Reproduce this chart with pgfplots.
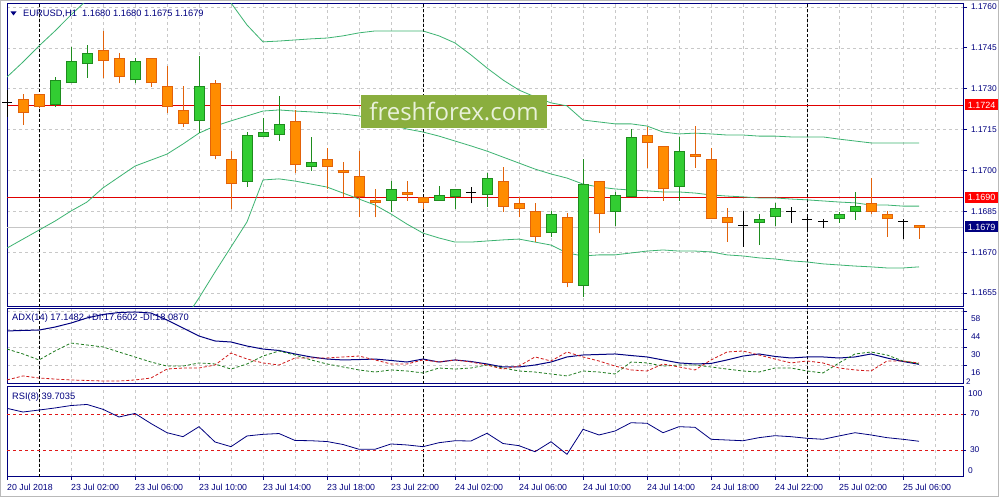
\documentclass[border=0pt]{standalone}
\usepackage{fontspec}
\setmainfont{Liberation Sans}
\newfontfamily\wmfont{Open Sans}
\usepackage{pgfplots}
\usepackage{pgfplotstable}
\pgfplotsset{compat=1.18}
\definecolor{mtnavy}{HTML}{000080}
\definecolor{gridgray}{HTML}{C8C8C8}
\definecolor{bullfill}{HTML}{32CD32}
\definecolor{bulledge}{HTML}{1E8C1E}
\definecolor{bearfill}{HTML}{FF8C00}
\definecolor{bearedge}{HTML}{E2620A}
\definecolor{bandgreen}{HTML}{3CB371}
\definecolor{levelred}{HTML}{E00000}
\definecolor{rsired}{HTML}{E01818}
\definecolor{wmbox}{HTML}{8AAE3E}
\definecolor{wmtext}{HTML}{E9F1DA}
\definecolor{pdigreen}{HTML}{1E7B1E}
\definecolor{mdired}{HTML}{D01818}

\pgfplotstableread{
i O H L C
3 1.17239 1.17342 1.17232 1.17332
4 1.17320 1.17453 1.17320 1.17402
5 1.17390 1.17461 1.17340 1.17430
8 1.17331 1.17412 1.17320 1.17402
12 1.17180 1.17420 1.17139 1.17309
15 1.16959 1.17140 1.16940 1.17130
16 1.17122 1.17194 1.17122 1.17140
17 1.17129 1.17273 1.17109 1.17169
19 1.17012 1.17124 1.16999 1.17030
24 1.16889 1.16961 1.16849 1.16931
27 1.16889 1.16943 1.16889 1.16909
28 1.16901 1.16931 1.16858 1.16931
30 1.16909 1.16990 1.16867 1.16971
34 1.16769 1.16852 1.16757 1.16840
36 1.16577 1.17041 1.16537 1.16949
38 1.16849 1.16921 1.16796 1.16909
39 1.16901 1.17152 1.16901 1.17122
42 1.16940 1.17124 1.16889 1.17071
47 1.16808 1.16839 1.16726 1.16821
48 1.16828 1.16879 1.16796 1.16861
52 1.16821 1.16849 1.16808 1.16839
53 1.16849 1.16921 1.16818 1.16868
}\bull

\pgfplotstableread{
i O H L C
1 1.17261 1.17280 1.17167 1.17210
2 1.17280 1.17282 1.17230 1.17232
6 1.17441 1.17512 1.17340 1.17401
7 1.17412 1.17430 1.17320 1.17342
9 1.17412 1.17412 1.17307 1.17320
10 1.17309 1.17383 1.17210 1.17232
11 1.17222 1.17310 1.17161 1.17169
13 1.17321 1.17332 1.17041 1.17052
14 1.17041 1.17071 1.16860 1.16949
18 1.17180 1.17222 1.16990 1.17019
20 1.17041 1.17082 1.16931 1.17012
21 1.17002 1.17030 1.16904 1.16990
22 1.16980 1.17071 1.16828 1.16901
23 1.16892 1.16931 1.16828 1.16879
25 1.16920 1.16961 1.16889 1.16909
26 1.16901 1.16901 1.16858 1.16879
31 1.16961 1.17014 1.16849 1.16867
32 1.16879 1.16901 1.16828 1.16860
33 1.16851 1.16882 1.16737 1.16757
35 1.16828 1.16843 1.16571 1.16588
37 1.16961 1.16961 1.16769 1.16839
40 1.17130 1.17161 1.17010 1.17100
41 1.17090 1.17090 1.16889 1.16931
43 1.17060 1.17163 1.17010 1.17050
44 1.17041 1.17082 1.16821 1.16821
45 1.16829 1.16861 1.16738 1.16808
54 1.16879 1.16971 1.16839 1.16849
55 1.16839 1.16851 1.16757 1.16821
57 1.16800 1.16800 1.16750 1.16790
}\bear

\pgfplotstableread{
i O H L C
0 1.17251 1.17295 1.17196 1.17251
29 1.16918 1.16940 1.16879 1.16918
46 1.16799 1.16851 1.16720 1.16799
49 1.16851 1.16867 1.16808 1.16851
50 1.16821 1.16836 1.16779 1.16821
51 1.16811 1.16821 1.16789 1.16811
56 1.16812 1.16821 1.16747 1.16812
}\doji

\pgfplotstableread{
i up mid lo
0 1.17343 1.16715 1.16088
1 1.17398 1.16748 1.16099
2 1.17457 1.16781 1.16106
3 1.17512 1.16814 1.16117
4 1.17571 1.16851 1.16132
5 1.17626 1.16884 1.16143
6 1.17670 1.16936 1.16172
7 1.17706 1.16976 1.16209
8 1.17736 1.17016 1.16260
9 1.17754 1.17038 1.16315
10 1.17762 1.17060 1.16370
11 1.17758 1.17097 1.16444
12 1.17736 1.17137 1.16532
13 1.17692 1.17163 1.16627
14 1.17615 1.17182 1.16719
15 1.17534 1.17200 1.16811
16 1.17472 1.17218 1.16965
17 1.17475 1.17222 1.16969
18 1.17479 1.17218 1.16961
19 1.17483 1.17215 1.16950
20 1.17486 1.17211 1.16939
21 1.17494 1.17207 1.16917
22 1.17505 1.17200 1.16895
23 1.17512 1.17185 1.16873
24 1.17512 1.17167 1.16840
25 1.17512 1.17152 1.16803
26 1.17512 1.17141 1.16770
27 1.17494 1.17126 1.16752
28 1.17468 1.17108 1.16737
29 1.17424 1.17090 1.16737
30 1.17376 1.17071 1.16741
31 1.17332 1.17049 1.16745
32 1.17295 1.17027 1.16748
33 1.17270 1.17005 1.16737
34 1.17248 1.16987 1.16726
35 1.17237 1.16972 1.16697
36 1.17185 1.16950 1.16686
37 1.17178 1.16939 1.16690
38 1.17171 1.16932 1.16690
39 1.17171 1.16928 1.16697
40 1.17163 1.16925 1.16704
41 1.17141 1.16921 1.16708
42 1.17134 1.16921 1.16704
43 1.17137 1.16917 1.16704
44 1.17134 1.16910 1.16701
45 1.17130 1.16906 1.16690
46 1.17130 1.16903 1.16686
47 1.17126 1.16899 1.16679
48 1.17126 1.16899 1.16675
49 1.17123 1.16895 1.16668
50 1.17123 1.16892 1.16664
51 1.17123 1.16888 1.16657
52 1.17115 1.16884 1.16653
53 1.17108 1.16881 1.16649
54 1.17101 1.16873 1.16646
55 1.17101 1.16873 1.16642
56 1.17101 1.16869 1.16642
57 1.17101 1.16869 1.16646
}\bands

\pgfplotstableread{
i adx pdi mdi rsi
0 42.8 28.9 5.1 76.3
1 43.2 25.1 8.2 72.2
2 43.5 20.5 6.6 74.4
3 45.8 27.4 5.8 76.7
4 48.9 33.5 5.1 79.4
5 52.8 32.0 4.7 80.6
6 55.5 30.5 4.3 75.2
7 57.0 26.6 4.3 66.7
8 57.4 22.8 5.1 70.6
9 56.6 18.9 6.6 59.4
10 51.2 15.8 13.5 49.2
11 45.1 15.8 14.3 44.8
12 38.9 18.2 14.3 55.9
13 35.1 17.4 16.6 38.9
14 34.3 13.5 25.8 33.7
15 31.2 17.4 21.2 45.6
16 28.9 23.5 18.2 47.4
17 27.8 27.4 16.6 48.3
18 25.1 24.3 22.0 40.6
19 22.8 20.5 22.0 40.3
20 21.2 17.4 22.0 39.4
21 20.5 15.1 22.8 36.1
22 20.8 12.8 23.5 30.8
23 21.2 11.2 20.5 30.8
24 20.1 12.8 17.4 36.7
25 18.9 12.0 17.4 35.6
26 21.2 10.5 20.5 33.7
27 18.9 14.3 18.9 38.1
28 20.5 13.5 20.5 40.3
29 19.3 14.3 18.9 40.0
30 17.4 16.6 16.6 48.6
31 15.1 14.3 13.5 37.2
32 15.1 12.0 15.8 34.8
33 16.6 11.2 22.8 28.1
34 18.9 9.7 19.7 39.2
35 22.8 8.2 26.6 25.2
36 24.3 12.0 22.8 53.0
37 24.7 11.2 19.7 46.7
38 25.1 9.7 15.8 51.1
39 23.9 18.9 12.8 60.3
40 22.8 18.2 12.0 59.7
41 20.5 15.8 17.4 49.2
42 18.2 16.6 15.1 55.9
43 17.4 16.6 12.8 55.2
44 17.8 15.1 20.5 41.9
45 20.5 13.5 26.6 41.1
46 23.5 12.0 27.4 40.3
47 25.1 11.2 24.3 43.7
48 23.2 14.3 21.2 45.9
49 22.0 14.3 18.2 44.8
50 22.8 12.0 19.7 43.0
51 22.8 10.5 18.2 41.9
52 22.0 18.2 14.3 45.6
53 22.8 25.1 12.8 49.2
54 25.1 26.6 12.0 46.7
55 22.0 24.3 19.7 43.7
56 19.3 19.7 19.7 41.9
57 17.1482 17.6602 18.0870 39.7035
}\ind

\pgfplotsset{
  mtbase/.style={
    scale only axis, width=956pt, xmin=0, xmax=59.75,
    axis line style={draw=mtnavy, line width=1pt},
    tick align=outside, major tick length=4pt,
    tick style={draw=mtnavy, line width=0.8pt},
    grid style={draw=gridgray, dash pattern=on 3pt off 3pt, line width=0.6pt},
    ytick pos=right, yticklabel pos=right,
    yticklabel style={font=\fontsize{8.4}{9}\selectfont, text=mtnavy, xshift=0.5pt},
    xticklabel style={font=\fontsize{8.8}{10}\selectfont, text=mtnavy},
    /pgf/number format/assume math mode=true,
    scaled y ticks=false,
    extra x ticks={2,26,50}, extra x tick labels={},
    extra x tick style={grid=major, major grid style={draw=black, dash pattern=on 3pt off 2pt, line width=0.8pt}, major tick length=0pt},
  },
  upper/.style={mtbase, xtick={0,2,...,58}, xticklabels={}, xmajorgrids, every x tick/.style={draw=none}},
  wick/.style={draw=none, mark=none, forget plot, error bars/.cd, y dir=plus, y explicit, error mark=none, error bar style={draw=#1, line width=1pt, solid}},
  body/.style 2 args={draw=none, mark=none, forget plot, error bars/.cd, y dir=plus, y explicit, error mark=none, error bar style={draw=#1, line width=#2, solid}},
}

\begin{document}
\begin{tikzpicture}
\fill[white] (0pt,0pt) rectangle (999pt,497pt);
\draw[gray!55, line width=1pt] (0.5pt,0.5pt) rectangle (998.5pt,496.5pt);

% ---------------- main price panel
\begin{axis}[upper, at={(7pt,190pt)}, anchor=south west, height=303pt,
  ymin=1.164987, ymax=1.17611,
  ytick={1.1655,1.1670,1.1685,1.1700,1.1715,1.1730,1.1745,1.1760}, ymajorgrids,
  yticklabel style={/pgf/number format/fixed, /pgf/number format/fixed zerofill, /pgf/number format/precision=4}]
\draw[levelred, line width=1.1pt] (axis cs:0,1.1724) -- (axis cs:59.75,1.1724);
\draw[levelred, line width=1.1pt] (axis cs:0,1.1690) -- (axis cs:59.75,1.1690);
\draw[gray!45, line width=0.9pt] (axis cs:0,1.1679) -- (axis cs:59.75,1.1679);
\addplot[bandgreen, line width=0.8pt, mark=none] table[x=i, y=up] {\bands};
\addplot[bandgreen, line width=0.8pt, mark=none] table[x=i, y=mid] {\bands};
\addplot[bandgreen, line width=0.8pt, mark=none] table[x=i, y=lo] {\bands};
% wicks
\addplot[wick=bulledge] table[x=i, y=L, y error plus expr={\thisrow{H}-\thisrow{L}}] {\bull};
\addplot[wick=bearedge] table[x=i, y=L, y error plus expr={\thisrow{H}-\thisrow{L}}] {\bear};
\addplot[wick=black] table[x=i, y=L, y error plus expr={\thisrow{H}-\thisrow{L}}] {\doji};
% bodies
\addplot[body={bulledge}{11pt}] table[x=i, y=O, y error plus expr={\thisrow{C}-\thisrow{O}}] {\bull};
\addplot[body={bullfill}{9pt}] table[x=i, y expr={\thisrow{O}+0.0000367}, y error plus expr={\thisrow{C}-\thisrow{O}-0.0000734}] {\bull};
\addplot[body={bearedge}{11pt}] table[x=i, y=C, y error plus expr={\thisrow{O}-\thisrow{C}}] {\bear};
\addplot[body={bearfill}{9pt}] table[x=i, y expr={\thisrow{C}+0.0000367}, y error plus expr={\thisrow{O}-\thisrow{C}-0.0000734}] {\bear};
\addplot[only marks, mark=-, mark size=5pt, mark options={draw=black, line width=1pt}] table[x=i, y=O] {\doji};
\end{axis}

% watermark
\node[fill=wmbox, text=wmtext, font=\wmfont\fontsize{24}{25}\selectfont, minimum width=186pt, minimum height=33pt, inner sep=0pt] at (454pt,385.5pt) {freshforex.com};

% price boxes
\node[fill=red, text=white, font=\fontsize{9}{10}\selectfont, anchor=west, inner xsep=1pt, inner ysep=1pt, minimum width=33pt, minimum height=11pt] at (965pt,392pt) {1.1724};
\node[fill=red, text=white, font=\fontsize{9}{10}\selectfont, anchor=west, inner xsep=1pt, inner ysep=1pt, minimum width=33pt, minimum height=11pt] at (965pt,299.5pt) {1.1690};
\node[fill=mtnavy, text=white, font=\fontsize{9}{10}\selectfont, anchor=west, inner xsep=1pt, inner ysep=1pt, minimum width=33pt, minimum height=11pt] at (965pt,270pt) {1.1679};

% titles
\fill[mtnavy] (10.5pt,485.5pt) -- (16.5pt,485.5pt) -- (13.5pt,481.5pt) -- cycle;
\node[anchor=west, inner sep=0pt, text=mtnavy, font=\fontsize{9.3}{10}\selectfont] at (23pt,483pt) {EURUSD,H1\ \ 1.1680 1.1680 1.1675 1.1679};

% ---------------- ADX panel
\begin{axis}[upper, at={(7pt,113pt)}, anchor=south west, height=75pt,
  ymin=2, ymax=59.7, ytick={16,30,44,58}, ymajorgrids,
  yticklabel style={yshift=-7pt}]
\addplot[mtnavy, line width=1pt, mark=none] table[x=i, y=adx] {\ind};
\addplot[pdigreen, line width=0.8pt, dash pattern=on 3pt off 2pt, mark=none] table[x=i, y=pdi] {\ind};
\addplot[mdired, line width=0.8pt, dash pattern=on 3pt off 2pt, mark=none] table[x=i, y=mdi] {\ind};
\end{axis}
\node[anchor=west, inner sep=0pt, text=mtnavy, font=\fontsize{9.3}{10}\selectfont] at (12pt,179pt) {ADX(14) 17.1482 +DI:17.6602 -DI:18.0870};
\node[anchor=west, inner sep=0pt, text=mtnavy, font=\fontsize{8}{9}\selectfont] at (966pt,115.5pt) {2};

% ---------------- RSI panel
\begin{axis}[mtbase, at={(7pt,20pt)}, anchor=south west, height=90pt,
  ymin=0, ymax=100, ytick={30,70},
  xtick={0,4,...,56}, minor xtick={2,6,...,58}, xmajorgrids, xminorgrids,
  minor tick length=0pt, major tick length=3pt, xtick pos=bottom,
  minor grid style={draw=gridgray, dash pattern=on 3pt off 3pt, line width=0.6pt},
  xticklabels={20 Jul 2018,23 Jul 02:00,23 Jul 06:00,23 Jul 10:00,23 Jul 14:00,23 Jul 18:00,23 Jul 22:00,24 Jul 02:00,24 Jul 06:00,24 Jul 10:00,24 Jul 14:00,24 Jul 18:00,24 Jul 22:00,25 Jul 02:00,25 Jul 06:00},
  xticklabel style={anchor=north west, inner sep=0pt, yshift=-4pt}]
\draw[rsired, line width=0.8pt, dash pattern=on 3pt off 3pt] (axis cs:0,70) -- (axis cs:59.75,70);
\draw[rsired, line width=0.8pt, dash pattern=on 3pt off 3pt] (axis cs:0,30) -- (axis cs:59.75,30);
\addplot[mtnavy, line width=0.8pt, mark=none] table[x=i, y=rsi] {\ind};
\end{axis}
\node[anchor=west, inner sep=0pt, text=mtnavy, font=\fontsize{8.4}{9}\selectfont] at (968pt,103pt) {100};
\node[anchor=west, inner sep=0pt, text=mtnavy, font=\fontsize{8.4}{9}\selectfont] at (968pt,26.3pt) {0};
\node[anchor=west, inner sep=0pt, text=mtnavy, font=\fontsize{9.3}{10}\selectfont] at (12pt,100pt) {RSI(8) 39.7035};
\pgfresetboundingbox
\path[use as bounding box] (0pt,0pt) rectangle (999pt,497pt);
\end{tikzpicture}
\end{document}
